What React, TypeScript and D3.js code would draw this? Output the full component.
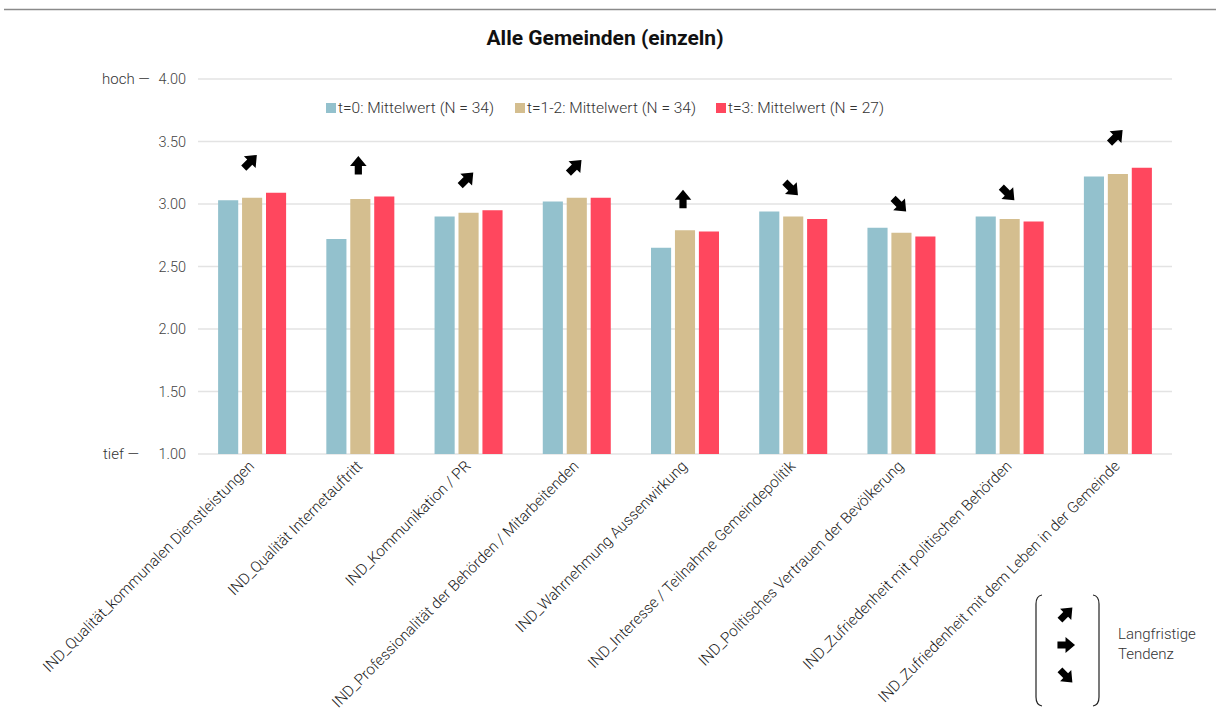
import React from "react";
import * as d3 from "d3";

const categories = [
  "IND_Qualität_kommunalen Dienstleistungen",
  "IND_Qualität Internetauftritt",
  "IND_Kommunikation / PR",
  "IND_Professionalität der Behörden / Mitarbeitenden",
  "IND_Wahrnehmung Aussenwirkung",
  "IND_Interesse / Teilnahme Gemeindepolitik",
  "IND_Politisches Vertrauen der Bevölkerung",
  "IND_Zufriedenheit mit politischen Behörden",
  "IND_Zufriedenheit mit dem Leben in der Gemeinde",
];
const seriesNames = [
  "t=0: Mittelwert (N = 34)",
  "t=1-2: Mittelwert (N = 34)",
  "t=3: Mittelwert (N = 27)",
];
const t0 = [3.03, 2.72, 2.9, 3.02, 2.65, 2.94, 2.81, 2.9, 3.22];
const t12 = [3.05, 3.04, 2.93, 3.05, 2.79, 2.9, 2.77, 2.88, 3.24];
const t3 = [3.09, 3.06, 2.95, 3.05, 2.78, 2.88, 2.74, 2.86, 3.29];
// trend direction in degrees: -90 up, -45 up-right, 0 right, 45 down-right
const trends = [-45, -90, -45, -45, -90, 45, 45, 45, -45];
const yTicks = [1, 1.5, 2, 2.5, 3, 3.5, 4];
const colors = ["#93C1CD", "#D4BE8F", "#FF475E"];
const legendTrends = [-45, 0, 45];

const W = 1216;
const H = 716;
const left = 198;
const right = 1172;
const top = 79;
const bottom = 454;
const FONT = "Roboto, 'Noto Sans', sans-serif";

const ARROW = "M-9,-3.6 L-0.5,-3.6 L-0.5,-8.3 L9.5,0 L-0.5,8.3 L-0.5,3.6 L-9,3.6 Z";

export default function App() {
  const series = [t0, t12, t3];
  const x = d3.scaleBand<string>().domain(categories).range([left, right]).paddingInner(0).paddingOuter(0);
  const y = d3.scaleLinear().domain([1, 4]).range([bottom, top]);
  const inner = d3
    .scaleBand<number>()
    .domain([0, 1, 2])
    .range([-34, 34])
    .paddingInner(0.16)
    .paddingOuter(0);

  const legendX = [326, 515, 716];

  return (
    <svg
      width={W}
      height={H}
      style={{ position: "absolute", left: 0, top: 0, background: "#fff" }}
      fontFamily={FONT}
    >
      <line x1={4} x2={W} y1={9.5} y2={9.5} stroke="#8a8a8a" strokeWidth={1.5} />
      <text x={605} y={45} textAnchor="middle" fontSize={21} fontWeight="bold" fill="#111">
        Alle Gemeinden (einzeln)
      </text>

      {yTicks.map((t) => (
        <g key={t}>
          <line x1={left} x2={right} y1={y(t)} y2={y(t)} stroke="#e3e3e3" strokeWidth={1.5} />
          <text x={186} y={y(t) + 5} textAnchor="end" fontSize={14.5} fontWeight={300} fill="#444">
            {t.toFixed(2)}
          </text>
        </g>
      ))}
      <text x={102} y={y(4) + 5} fontSize={15} fontWeight={300} fill="#333">
        hoch —
      </text>
      <text x={103} y={y(1) + 5} fontSize={15} fontWeight={300} fill="#333">
        tief —
      </text>

      {seriesNames.map((s, i) => (
        <g key={s}>
          <rect x={legendX[i]} y={103} width={10} height={10} fill={colors[i]} />
          <text x={legendX[i] + 12} y={113} fontSize={15.5} fontWeight={300} fill="#333">
            {s}
          </text>
        </g>
      ))}

      {categories.map((c, ci) => {
        const cx = (x(c) as number) + x.bandwidth() / 2;
        const maxV = Math.max(t0[ci], t12[ci], t3[ci]);
        const dy = trends[ci] > 0 ? 23 : 31;
        return (
          <g key={c}>
            {series.map((s, si) => (
              <rect
                key={si}
                x={cx + (inner(si) as number)}
                y={y(s[ci])}
                width={inner.bandwidth()}
                height={bottom - y(s[ci])}
                fill={colors[si]}
              />
            ))}
            <path
              d={ARROW}
              transform={`translate(${cx - 2},${y(maxV) - dy}) rotate(${trends[ci]})`}
              fill="#000"
            />
            <text
              transform={`translate(${cx + 3},${bottom + 13}) rotate(-45)`}
              textAnchor="end"
              fontSize={15.2}
              fontWeight={300}
              fill="#222"
            >
              {c}
            </text>
          </g>
        );
      })}

      <path d="M1042,595 Q1036,596 1036,604 L1036,697 Q1036,705 1042,706" fill="none" stroke="#222" strokeWidth={1.2} />
      <path d="M1093,595 Q1099,596 1099,604 L1099,697 Q1099,705 1093,706" fill="none" stroke="#222" strokeWidth={1.2} />
      {legendTrends.map((a, i) => (
        <path
          key={i}
          d={ARROW}
          transform={`translate(1066,${614 + i * 31}) rotate(${a}) scale(0.95)`}
          fill="#000"
        />
      ))}
      <text x={1118} y={639} fontSize={15} fontWeight={300} fill="#333">
        Langfristige
      </text>
      <text x={1118} y={659} fontSize={15} fontWeight={300} fill="#333">
        Tendenz
      </text>
    </svg>
  );
}
